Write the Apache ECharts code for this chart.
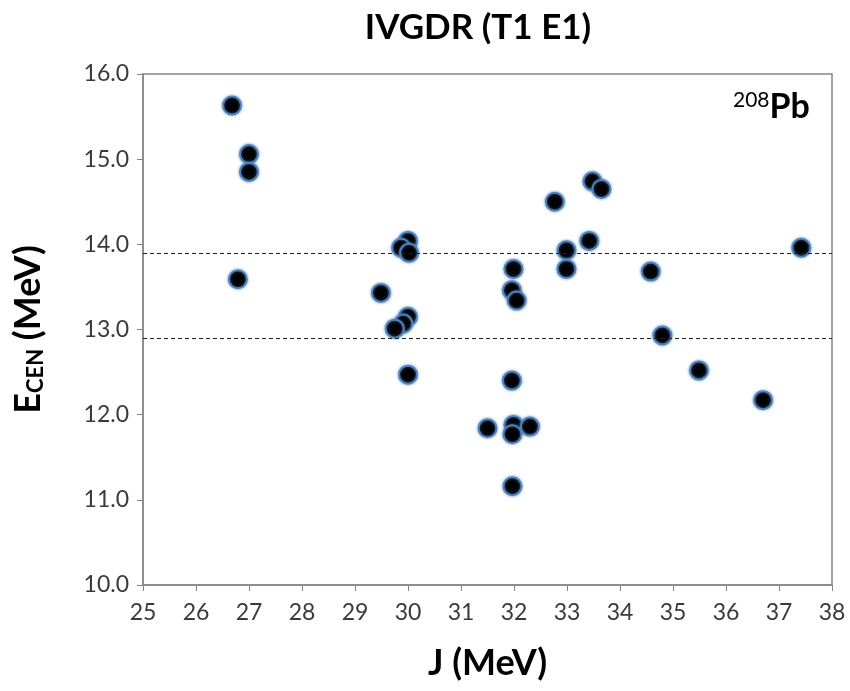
<!DOCTYPE html>
<html><head><meta charset="utf-8">
<script src="https://cdn.jsdelivr.net/npm/echarts@6/dist/echarts.min.js"></script>
<style>html,body{margin:0;padding:0;background:#fff}#c{width:850px;height:691px}</style>
</head><body><div id="c"></div>
<script>
const J = [26.68, 27.0, 27.0, 26.79, 29.49, 30.0, 29.87, 30.02, 30.0, 29.91, 29.75, 30.0,
           31.99, 31.96, 32.05, 31.96, 31.5, 31.99, 32.3, 31.97, 31.97,
           32.77, 33.48, 33.65, 33.42, 32.99, 32.99, 34.58, 34.8, 35.49, 36.7, 37.42];
const ECEN = [15.63, 15.06, 14.85, 13.59, 13.43, 14.04, 13.96, 13.90, 13.15, 13.07, 13.01, 12.47,
              13.71, 13.46, 13.34, 12.40, 11.84, 11.88, 11.86, 11.77, 11.16,
              14.50, 14.74, 14.65, 14.04, 13.93, 13.71, 13.68, 12.93, 12.52, 12.17, 13.96];
const refLines = [13.9, 12.9];
const title = 'IVGDR (T1 E1)';
const xName = 'J (MeV)';
const nucleusMass = '208';
const nucleus = 'Pb';

const chart = echarts.init(document.getElementById('c'));
const font = 'Lato, "Open Sans", sans-serif';
chart.setOption({
  animation: false,
  title: {text: title, left: 473, top: 5, textAlign: 'center',
    textStyle: {fontFamily: font, fontWeight: 'bold', fontSize: 35, color: '#000'}},
  grid: {left: 143, right: 18, top: 74, bottom: 106, show: true, borderColor: '#868686', borderWidth: 1.5},
  xAxis: {type: 'value', min: 25, max: 38, interval: 1,
    name: xName, nameLocation: 'middle', nameGap: 60,
    nameTextStyle: {fontFamily: font, fontWeight: 'bold', fontSize: 36, color: '#000'},
    axisLine: {show: true, lineStyle: {color: '#868686', width: 1.5}},
    axisTick: {show: true, length: 6, lineStyle: {color: '#868686'}},
    splitLine: {show: false},
    axisLabel: {fontFamily: font, fontSize: 23, color: '#3a3a3a', margin: 16}},
  yAxis: {type: 'value', min: 10, max: 16, interval: 1,
    name: 'E{sub|CEN} (MeV)', nameLocation: 'middle', nameGap: 96, nameRotate: 90,
    nameTextStyle: {fontFamily: font, fontWeight: 'bold', fontSize: 36, color: '#000',
      rich: {sub: {fontFamily: font, fontWeight: 'bold', fontSize: 22, color: '#000', verticalAlign: 'bottom', padding: [16, 0, 0, 0]}}},
    axisLine: {show: true, lineStyle: {color: '#868686', width: 1.5}},
    axisTick: {show: true, length: 6, lineStyle: {color: '#868686'}},
    splitLine: {show: false},
    axisLabel: {fontFamily: font, fontSize: 23, color: '#3a3a3a', margin: 14, formatter: v => v.toFixed(1)}},
  graphic: [{type: 'text', left: 733, top: 90, style: {
    text: '{sup|' + nucleusMass + '}{b|' + nucleus + '}',
    rich: {sup: {fontFamily: font, fontWeight: 'normal', fontSize: 21, fill: '#000', verticalAlign: 'top', padding: [0, 0, 14, 0]},
           b: {fontFamily: font, fontWeight: 'bold', fontSize: 34, fill: '#000'}}}}],
  series: [{type: 'scatter', data: J.map((x, i) => [x, ECEN[i]]), symbolSize: 18,
    itemStyle: {color: '#000', borderColor: '#4f81bd', borderWidth: 2, opacity: 1,
      shadowBlur: 3, shadowColor: 'rgba(79,129,189,0.8)'},
    markLine: {silent: true, symbol: 'none', label: {show: false},
      lineStyle: {type: [4, 3], color: '#222', width: 1},
      data: refLines.map(v => ({yAxis: v}))},
    z: 3}]
});
</script></body></html>
